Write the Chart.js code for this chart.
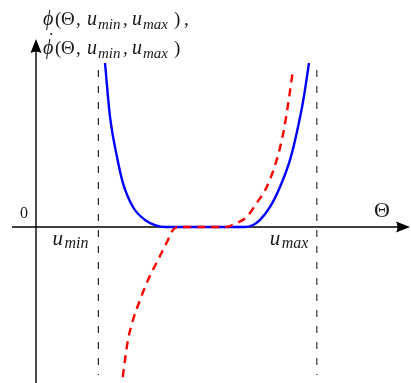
<!DOCTYPE html>
<html><head><meta charset="utf-8">
<script src="https://cdn.jsdelivr.net/npm/chart.js@4"></script>
<style>html,body{margin:0;padding:0;background:#fff;overflow:hidden}#wrap{width:411px;height:383px}</style>
</head><body><div id="wrap"><canvas id="c" width="411" height="383"></canvas></div>
<script>
// Θ values and φ(Θ) values (blue solid curve)
const thetaPhi = [1.106, 1.186, 1.298, 1.394, 1.554, 1.747, 1.907, 2.07, 2.8, 3.35, 3.478, 3.59, 3.75, 3.91, 4.071, 4.178, 4.284, 4.375];
const phiValues = [1.0, 0.671, 0.427, 0.268, 0.122, 0.043, 0.012, 0, 0, 0, 0.012, 0.043, 0.122, 0.244, 0.409, 0.573, 0.774, 1.0];
// Θ values and φ̇(Θ) values (red dashed curve)
const thetaPhiDot = [1.36, 1.378, 1.426, 1.474, 1.554, 1.667, 1.795, 1.955, 2.115, 2.2, 2.3, 2.8, 3.05, 3.109, 3.216, 3.377, 3.537, 3.697, 3.857, 3.963, 4.043, 4.114];
const phiDotValues = [-1.0, -0.951, -0.811, -0.689, -0.567, -0.445, -0.323, -0.201, -0.079, -0.015, 0, 0, 0, 0.006, 0.024, 0.061, 0.146, 0.244, 0.409, 0.573, 0.756, 0.947];
// u_min, u_max positions on the Θ axis
const uBounds = [1.0, 4.5];
const uLabels = ['min', 'max'];
// vertical extent of the dashed guide lines
const guideRange = [0.957, -0.902];
// axis limits
const xRange = [-0.5769, 6.0096];
const yRange = [-0.9512, 1.3841];
const axisExtent = { xStart: -0.385, yTip: 1.146 };

const pts = (xs, ys) => xs.map((x, i) => ({ x, y: ys[i] }));

const SERIF = '"Liberation Serif", "DejaVu Serif", serif';
const axesPlugin = {
  id: 'axes',
  beforeDatasetsDraw(chart) {
    const { ctx, scales: { x, y }, chartArea } = chart;
    const x0 = x.getPixelForValue(0), y0 = y.getPixelForValue(0);
    ctx.save();
    ctx.strokeStyle = '#000'; ctx.fillStyle = '#000'; ctx.lineWidth = 1.4;
    const xs = x.getPixelForValue(axisExtent.xStart), xt = chartArea.right - 1;
    ctx.beginPath(); ctx.moveTo(xs, y0); ctx.lineTo(xt - 10, y0); ctx.stroke();
    ctx.beginPath(); ctx.moveTo(xt, y0); ctx.lineTo(xt - 14, y0 - 5.5); ctx.quadraticCurveTo(xt - 11, y0, xt - 14, y0 + 5.5); ctx.closePath(); ctx.fill();
    const yt = y.getPixelForValue(axisExtent.yTip), yb = chartArea.bottom;
    ctx.beginPath(); ctx.moveTo(x0, yb); ctx.lineTo(x0, yt + 10); ctx.stroke();
    ctx.beginPath(); ctx.moveTo(x0, yt); ctx.lineTo(x0 - 5.5, yt + 14); ctx.quadraticCurveTo(x0, yt + 11, x0 + 5.5, yt + 14); ctx.closePath(); ctx.fill();
    ctx.restore();
  },
  afterDraw(chart) {
    const { ctx, scales: { x, y } } = chart;
    const y0 = y.getPixelForValue(0);
    ctx.save();
    ctx.fillStyle = '#1a1a1a'; ctx.textAlign = 'left'; ctx.textBaseline = 'alphabetic';
    const MAIN = 'italic 20px ' + SERIF, SUB = 'italic 15px ' + SERIF, UP = '19px ' + SERIF;
    const put = (s, px, py, f) => { ctx.font = f; ctx.fillText(s, px, py); };
    const titleLine = (base, dotted, trailing) => {
      put('\u03D5', 43, base, MAIN);
      if (dotted) { ctx.font = UP; ctx.fillText('\u02D9', 48, base - 8); }
      put('(', 55, base, UP);
      put('\u0398', 61, base, UP);
      put(',', 76, base, UP);
      put('u', 87, base, MAIN);
      put(uLabels[0], 98, base + 4, SUB);
      put(',', 123, base, UP);
      put('u', 132, base, MAIN);
      put(uLabels[1], 143, base + 4, SUB);
      put(')', 174, base, UP);
      if (trailing) put(',', 184, base, UP);
    };
    titleLine(25, false, true);
    titleLine(54, true, false);
    ctx.font = '16px ' + SERIF; ctx.textAlign = 'center';
    ctx.fillText('0', x.getPixelForValue(0) - 12, y0 - 9);
    ctx.font = '22px ' + SERIF;
    ctx.fillText('\u0398', 382, y0 - 10);
    ctx.textAlign = 'left';
    const LMAIN = 'italic 21px ' + SERIF, LSUB = 'italic 16px ' + SERIF;
    const umin = x.getPixelForValue(uBounds[0]), umax = x.getPixelForValue(uBounds[1]);
    put('u', umin - 46, y0 + 18, LMAIN); put(uLabels[0], umin - 34, y0 + 21, LSUB);
    put('u', umax - 47, y0 + 18, LMAIN); put(uLabels[1], umax - 35, y0 + 21, LSUB);
    ctx.restore();
  }
};

new Chart(document.getElementById('c'), {
  type: 'line',
  data: {
    datasets: [
      { label: 'phidot', data: pts(thetaPhiDot, phiDotValues), borderColor: '#ff0000', borderWidth: 2.4, borderDash: [8, 6], pointRadius: 0, cubicInterpolationMode: 'monotone', fill: false, order: 0 },
      { label: 'phi', data: pts(thetaPhi, phiValues), borderColor: '#0000ff', borderWidth: 2.4, pointRadius: 0, cubicInterpolationMode: 'monotone', fill: false, order: 1 },
      { label: 'umin', data: pts([uBounds[0], uBounds[0]], guideRange), borderColor: '#222', borderWidth: 1.2, borderDash: [7, 9], pointRadius: 0, order: 2 },
      { label: 'umax', data: pts([uBounds[1], uBounds[1]], guideRange), borderColor: '#333', borderWidth: 1.2, borderDash: [7, 9], pointRadius: 0, order: 2 }
    ]
  },
  options: {
    responsive: false, devicePixelRatio: 1, animation: false,
    layout: { padding: 0 },
    plugins: { legend: { display: false }, tooltip: { enabled: false }, title: { display: false } },
    scales: {
      x: { type: 'linear', min: xRange[0], max: xRange[1], display: false },
      y: { type: 'linear', min: yRange[0], max: yRange[1], display: false }
    }
  },
  plugins: [axesPlugin]
});
</script></body></html>
